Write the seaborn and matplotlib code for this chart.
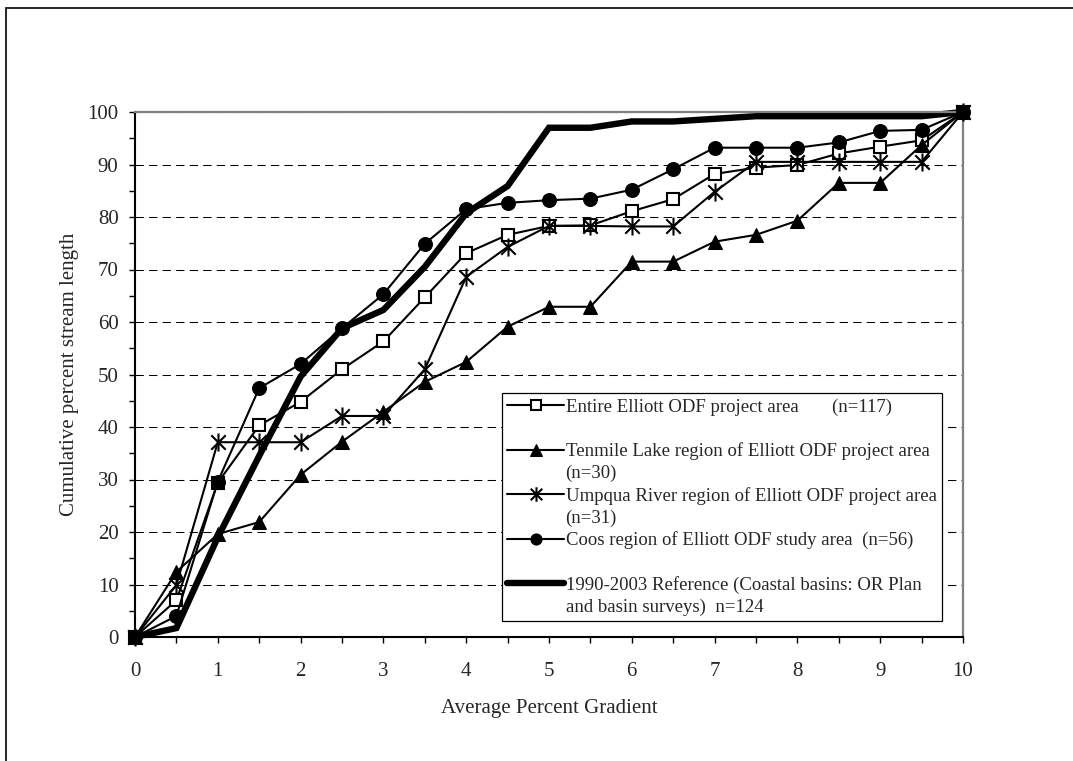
import matplotlib
matplotlib.use("Agg")
import matplotlib.pyplot as plt
import seaborn as sns
import numpy as np
from matplotlib.lines import Line2D
from matplotlib.patches import Rectangle
from matplotlib.path import Path
from matplotlib.ticker import MultipleLocator

gradient = [0, 0.5, 1, 1.5, 2, 2.5, 3, 3.5, 4, 4.5, 5, 5.5, 6, 6.5, 7, 7.5, 8, 8.5, 9, 9.5, 10]
entire = [0, 7.0, 29.4, 40.3, 44.8, 51.0, 56.3, 64.7, 73.1, 76.6, 78.3, 78.4, 81.1, 83.4, 88.2, 89.4, 89.9, 92.1, 93.4, 94.6, 100]
tenmile = [0, 12.4, 19.6, 21.9, 30.9, 37.2, 42.9, 48.6, 52.4, 59.1, 62.9, 62.9, 71.5, 71.5, 75.3, 76.6, 79.3, 86.5, 86.5, 93.7, 100]
umpqua = [0, 9.9, 37.1, 37.1, 37.1, 42.1, 42.1, 51.0, 68.6, 74.3, 78.3, 78.3, 78.2, 78.2, 84.8, 90.5, 90.5, 90.5, 90.5, 90.5, 100]
coos = [0, 4.0, 29.6, 47.4, 52.0, 58.8, 65.3, 74.9, 81.5, 82.7, 83.2, 83.5, 85.2, 89.1, 93.2, 93.2, 93.2, 94.2, 96.4, 96.6, 100]
reference = [0, 1.7, 19.0, 34.5, 49.6, 58.8, 62.3, 70.5, 80.7, 85.9, 97.0, 97.0, 98.2, 98.2, 98.7, 99.2, 99.2, 99.2, 99.2, 99.2, 100]

legend_lines = [
    "Entire Elliott ODF project area       (n=117)",
    "",
    "Tenmile Lake region of Elliott ODF project area",
    "(n=30)",
    "Umpqua River region of Elliott ODF project area",
    "(n=31)",
    "Coos region of Elliott ODF study area  (n=56)",
    "",
    "1990-2003 Reference (Coastal basins: OR Plan",
    "and basin surveys)  n=124",
]
x_label = "Average Percent Gradient"
y_label = "Cumulative percent stream length"

sns.set_style("white")
plt.rcParams["font.family"] = ["Liberation Serif", "DejaVu Serif"]
plt.rcParams["font.size"] = 15

# Excel-like asterisk marker: X plus vertical bar
asterisk = Path([(-1, -1), (1, 1), (-1, 1), (1, -1), (0, -1.25), (0, 1.25)],
                [Path.MOVETO, Path.LINETO, Path.MOVETO, Path.LINETO, Path.MOVETO, Path.LINETO])

fig = plt.figure(figsize=(10.73, 7.61), dpi=100)
ax = fig.add_axes([135 / 1073, 1 - 637 / 761, (963 - 135) / 1073, (637 - 112) / 761])

# reference (drawn beneath)
sns.lineplot(x=gradient, y=reference, ax=ax, color="black", lw=4.6, sort=False,
             clip_on=False, zorder=2, solid_joinstyle="miter")
ref_line = ax.lines[-1]

common = dict(color="black", lw=1.5, sort=False, clip_on=False, zorder=3)
sns.lineplot(x=gradient, y=entire, ax=ax, marker="s", markersize=9,
             markerfacecolor="white", markeredgecolor="black", markeredgewidth=1.5, **common)
l_entire = ax.lines[-1]
sns.lineplot(x=gradient, y=tenmile, ax=ax, marker="^", markersize=10,
             markerfacecolor="black", markeredgecolor="black", **common)
l_ten = ax.lines[-1]
sns.lineplot(x=gradient, y=umpqua, ax=ax, marker=asterisk, markersize=13,
             markeredgecolor="black", markeredgewidth=1.5, **common)
l_ump = ax.lines[-1]
sns.lineplot(x=gradient, y=coos, ax=ax, marker="o", markersize=10,
             markerfacecolor="black", markeredgecolor="black", **common)
l_coos = ax.lines[-1]

ax.set_xlim(0, 10)
ax.set_ylim(0, 100)
ax.xaxis.set_major_locator(MultipleLocator(1))
ax.xaxis.set_minor_locator(MultipleLocator(0.5))
ax.yaxis.set_major_locator(MultipleLocator(10))
ax.yaxis.set_minor_locator(MultipleLocator(5))
ax.tick_params(axis="both", which="both", direction="out", length=4.3, width=1,
               color="black", labelsize=15)
ax.tick_params(axis="y", which="both", left=True, pad=7.5)
ax.tick_params(axis="x", which="both", bottom=True, pad=14)
ax.set_xticklabels([str(int(v)) for v in ax.get_xticks()])

ax.yaxis.grid(True, which="major", color="black", lw=0.75, linestyle=(0, (8, 5)))
gl = ax.yaxis.get_gridlines()
gl[0].set_visible(False)
gl[-1].set_visible(False)
ax.set_axisbelow(True)

for s in ["top", "right"]:
    ax.spines[s].set_color("#808080")
    ax.spines[s].set_linewidth(1.6)
for s in ["left", "bottom"]:
    ax.spines[s].set_color("black")
    ax.spines[s].set_linewidth(1.5)

ax.set_xlabel(x_label, fontsize=15, labelpad=13)
ax.set_ylabel(y_label, fontsize=15, labelpad=6)

blank = Line2D([], [], color="none")
handles = [l_entire, blank, l_ten, blank, l_ump, blank, l_coos, blank, ref_line, blank]
leg = ax.legend(handles, legend_lines, loc="upper left", bbox_to_anchor=(0.443, 0.465),
                borderaxespad=0, frameon=True, fancybox=False, edgecolor="black",
                framealpha=1, fontsize=13.5, handlelength=3.0, handletextpad=0.1,
                labelspacing=0.25, borderpad=0.3, numpoints=1, markerscale=0.8)
leg.get_frame().set_linewidth(0.9)
leg.set_zorder(5)

# figure border
fig.patches.append(Rectangle((6 / 1073, -0.05), 1.2, 1 - 8 / 761 + 0.05,
                             transform=fig.transFigure, fill=False,
                             edgecolor="black", lw=1.2, zorder=0))

fig.savefig("out.png", dpi=100)
